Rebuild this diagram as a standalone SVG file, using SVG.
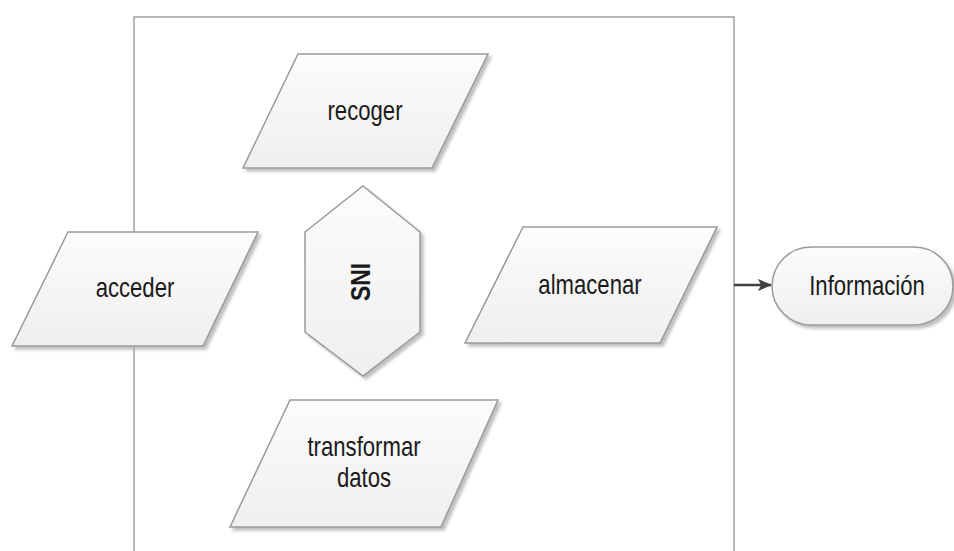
<svg xmlns="http://www.w3.org/2000/svg" width="954" height="551" viewBox="0 0 954 551">
<defs>
<style>
.shape{fill:url(#g);stroke:#9a9a9a;stroke-width:1.5;filter:url(#sh)}
.lbl{font-family:"Liberation Sans",Arial,sans-serif;font-size:27px;fill:#1a1a1a;text-anchor:middle}
.frame{fill:none;stroke:#a0a0a0;stroke-width:1.5}
.conn{stroke:#404040;stroke-width:2.5;fill:none}
</style>
<linearGradient id="g" x1="0" y1="0" x2="0" y2="1">
<stop offset="0" stop-color="#fcfcfc"/>
<stop offset="1" stop-color="#efefef"/>
</linearGradient>
<filter id="sh" x="-10%" y="-10%" width="125%" height="125%">
<feDropShadow dx="3" dy="3" stdDeviation="1.5" flood-color="#b0b0b0" flood-opacity="0.8"/>
</filter>
<marker id="arr" markerWidth="14" markerHeight="12" refX="13" refY="6" orient="auto" markerUnits="userSpaceOnUse">
<path d="M0,0 L14,6 L0,12 L3,6 Z" fill="#404040"/>
</marker>
</defs>
<rect width="954" height="551" fill="#ffffff"/>
<g id="frame">
<path class="frame" d="M134,560 V17 H734 V560"/>
</g>
<g id="connectors">
<line class="conn" x1="734" y1="285" x2="771" y2="285" marker-end="url(#arr)"/>
</g>
<g id="recoger">
<polygon class="shape" points="298,54 488,54 432,168 243,168"/>
<text class="lbl" transform="translate(365,120) scale(0.82,1)">recoger</text>
</g>
<g id="sni">
<polygon class="shape" points="363,186 420,232 420,332 363,376 305,332 305,232"/>
<text class="lbl" transform="translate(370,282) rotate(-90) scale(0.85,1)" font-size="24" font-weight="bold">SNI</text>
</g>
<g id="acceder">
<polygon class="shape" points="68,232 258,232 203,346 12,346"/>
<text class="lbl" transform="translate(135,297) scale(0.82,1)">acceder</text>
</g>
<g id="almacenar">
<polygon class="shape" points="523,227 717,227 660,343 465,343"/>
<text class="lbl" transform="translate(590,294) scale(0.82,1)">almacenar</text>
</g>
<g id="informacion">
<rect class="shape" x="772" y="247" width="181" height="78" rx="39" ry="39"/>
<text class="lbl" transform="translate(867,295) scale(0.82,1)">Información</text>
</g>
<g id="transformar">
<polygon class="shape" points="290,400 498,400 441,527 230,527"/>
<text class="lbl" transform="translate(364,456) scale(0.82,1)">transformar</text>
<text class="lbl" transform="translate(364,487) scale(0.82,1)">datos</text>
</g>
</svg>
